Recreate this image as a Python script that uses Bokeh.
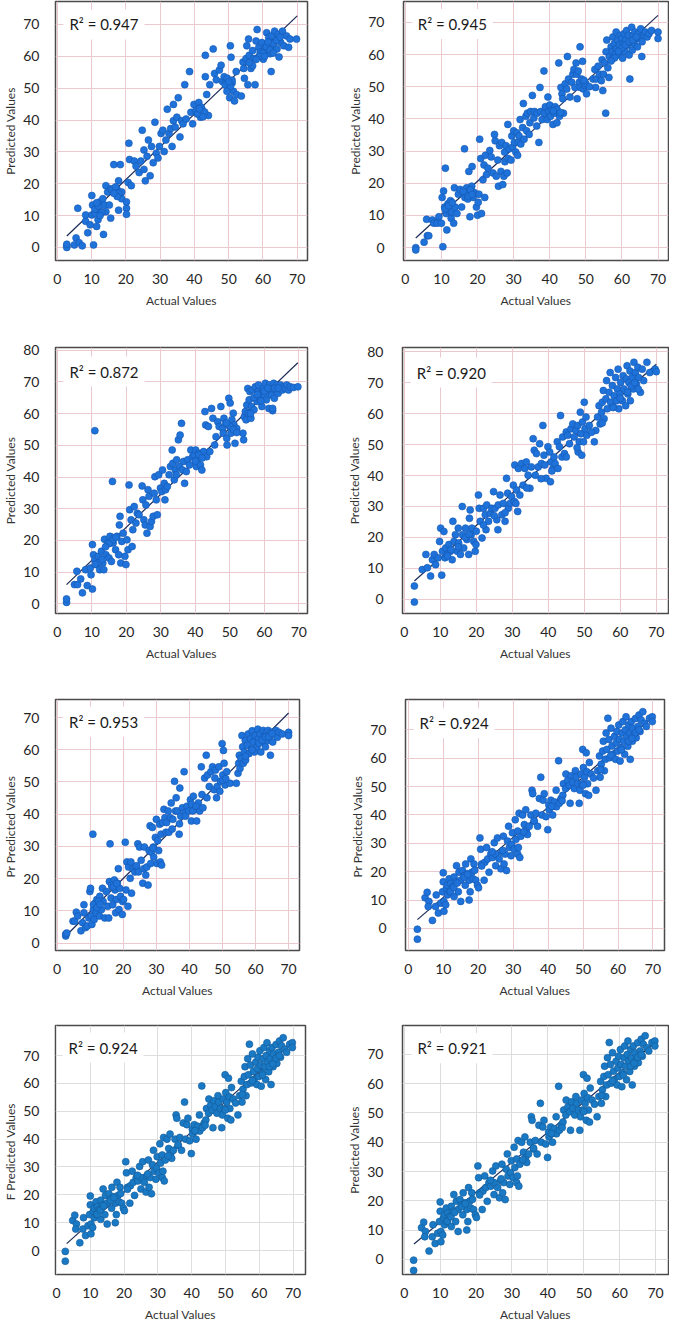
from bokeh.plotting import figure
from bokeh.layouts import column, row
from bokeh.models import Label, FixedTicker
from bokeh.embed import file_html
from bokeh.resources import INLINE

FONT = "Lato"

# ---------------- data (actual, predicted) ----------------
p1_points = [(2.8,0.5),(2.8,0),(2.8,1),(6,12.3),(5.5,3),(5,0.8),(6.4,1.5),(7.3,0.5),(8.9,4.6),(8.3,8.2),(8.3,10.2),(9.6,7.1),(10.6,0.8),(10.1,16.3),(10.3,13.3),(10.1,10.2),(11,10.7),(11.5,12.3),(11.5,6.6),(11.9,8.7),(12.4,14.3),(12.9,11.2),(13.3,15.3),(13.5,4.1),(13.8,13.3),(14.2,19.4),(14.7,17.4),(14.2,11.2),(15.2,13.3),(15.6,18.4),(15.6,9.2),(16.5,26),(17,17.4),(17.4,18.4),(17.9,11.7),(18.4,16.3),(18.4,26),(18.8,15.3),(17.9,20.9),(18.8,17.4),(20.2,12.3),(20.2,10.4),(20.2,14.3),(20.9,32.7),(20.7,20.4),(21.1,27.6),(21.6,19.4),(22.5,27.1),(23,25.5),(23.9,23.5),(24.4,27.1),(24.8,36.8),(25.3,30.6),(25.3,24.5),(25.7,20.9),(26.2,28.6),(26.6,33.7),(27.1,22.5),(27.5,31.7),(28,26.6),(28.5,39.3),(28.9,29.6),(29.4,28.1),(29.8,31.7),(30.3,35.8),(30.8,36.8),(31.2,30.1),(31.7,33.7),(32.1,43.4),(32.6,35.8),(33.1,37.3),(33.5,31.7),(33.9,44.9),(33.9,39.8),(34.4,37.8),(34.9,40.9),(35.3,47),(35.8,34.7),(36.3,39.8),(36.7,38.8),(37.2,51.1),(37.6,40.3),(38.6,55.2),(39,42.4),(39.5,38.8),(39.9,44.9),(40.4,42.9),(40.9,41.9),(41.3,45.5),(41.8,40.9),(42.2,43.4),(43.2,60.3),(43.2,53.6),(43.6,48),(44.1,41.4),(44.5,51.1),(45.5,62.3),(45.9,54.6),(46.4,52.6),(47.3,55.7),(47.8,57.2),(48.2,52.1),(48.7,53.6),(49.1,51.6),(49.6,53.1),(50,50),(50.3,47),(50.5,63.3),(50.7,59.7),(51,51.6),(51.4,49),(51.7,46),(52.2,55.2),(52.3,48),(53.7,47.5),(54.2,58.2),(54.4,56.2),(54.6,53.1),(55.1,59.3),(55.3,63.3),(55.6,51.1),(55.8,65.4),(56,60.3),(56.5,56.2),(57,61.8),(57.4,59.3),(57.7,51.1),(58,64.8),(58.3,68.4),(58.8,62.8),(59.2,61.3),(59.7,64.3),(60.1,59.1),(60.6,62.8),(61.1,67.4),(61.3,61.8),(61.7,65.9),(62.1,60.8),(62.4,55.2),(62.6,66.4),(62.9,63.3),(63.4,67.9),(63.8,64.8),(64.1,62.3),(64.5,66.9),(64.7,59.8),(65.2,64.3),(65.7,67.9),(66.1,63.3),(66.9,66.4),(67.5,62.8),(67.9,65.4),(69.8,65.4),
             (49,51),(50.5,50.5),(51,52.5),(49.5,49),(50,52),(41,42),(42,44),(43,42.5),(42.5,41),(41.5,43.5),(16,18),(17,19),(18,17),(17.5,16),(16.5,17),(11,12),(12,13),(13,11),(11.5,14),(12.5,10),(60,61),(61,63),(62,62),(63,64),(64,65),(59,60),(60.5,60),(61.5,64.5),(63,61),(65,66),(57,57),(56,58),(58,59)]

p2_points = [(2.9,0),(2.9,-0.7),(5.2,1.7),(5.9,8.8),(6.1,3.7),(6.5,3.7),(7.5,8.6),(7.9,7.6),(8.8,7.6),(9.3,9.6),(10,7.6),(10.2,15.6),(10.4,0.3),(10.6,17.6),(10.9,12.6),(11.1,24.7),(11.3,10.6),(11.5,5.5),(11.8,13.6),(12,11.6),(12.5,14.6),(12.7,9.1),(12.9,11.1),(13.4,7.6),(13.6,18.6),(13.8,12.6),(14.3,10.6),(14.7,16.6),(15.2,18.1),(15.6,12.6),(16.1,17.1),(16.4,30.7),(16.5,15.6),(17,18.6),(17.3,15.1),(17.5,17.1),(17.6,23.7),(17.9,9.6),(18.2,16.6),(18.4,19.1),(18.5,25.2),(18.8,15.6),(19.1,17.1),(19.7,12.6),(20,10.1),(20.2,14.1),(20.4,16.6),(20.6,33.7),(20.9,27.7),(21.1,10.6),(21.5,21.1),(21.8,25.7),(22,15.6),(22.2,28.7),(22.5,22.7),(22.9,24.7),(23.4,30.2),(23.8,28.2),(24.3,23.2),(24.7,35.2),(24.9,33.2),(25.2,22.2),(25.6,27.2),(25.8,19.1),(26.1,31.7),(26.5,23.7),(26.7,32.7),(27,19.6),(27.3,22.2),(27.5,29.7),(27.6,26.7),(27.9,31.7),(28.2,23.2),(28.4,38.3),(28.5,27.7),(28.8,30.7),(29.3,27.2),(29.5,34.7),(29.7,31.2),(30,36.3),(30.2,32.7),(30.6,29.7),(30.9,35.7),(31.1,28.7),(31.3,32.7),(31.5,34.7),(31.8,39.8),(32,32.2),(32.5,37.3),(32.7,44.8),(32.9,33.7),(33.4,40.8),(33.6,36.3),(33.8,41.8),(34.3,35.2),(34.5,38.8),(34.7,42.3),(35.2,47.3),(35.6,40.3),(35.8,42.3),(36.4,37.8),(36.5,41.8),(37,32.7),(37.3,49.8),(37.5,42.3),(37.9,39.8),(38.4,54.9),(38.5,41.8),(38.8,43.8),(39.3,39.8),(39.5,46.8),(39.7,42.3),(40,44.3),(40.2,40.8),(40.6,42.8),(40.9,38.3),(41.3,41.8),(41.5,43.8),(42,38.8),(42.5,57.4),(42.7,40.8),(43.1,49.8),(43.4,47.8),(43.6,46.3),(43.8,41.8),(44.3,50.9),(44.7,49.3),(44.9,59.4),(45.2,52.4),(45.6,46.8),(46.1,51.4),(46.4,53.9),(46.7,55.4),(47,49.8),(47.3,57.4),(47.5,53.9),(47.6,46.3),(47.9,54.9),(48.2,51.4),(48.4,62.4),(48.5,49.8),(48.8,52.4),(49.1,57.9),(49.3,49.3),(49.7,50.4),(50.2,47.8),(52,52.4),(52.5,55.4),(52.7,49.8),(52.9,52.4),(53.4,56.4),(53.8,53.9),(54.3,51.9),(54.5,58.4),(54.7,48.8),(54.9,53.9),(55.2,57.4),(55.5,41.8),(55.6,60.9),(55.8,64.5),(56.1,55.9),(56.4,52.9),(56.5,59.4),(57,62.4),(57.3,60.9),(57.5,65.5),(57.6,58.9),(57.9,63.4),(58.2,60.4),(58.4,67),(58.5,61.9),(58.8,64.5),(59.1,59.9),(59.3,62.9),(59.5,66),(59.7,61.4),(60,65),(60.2,58.9),(60.4,63.4),(60.6,66.5),(60.9,60.9),(61.1,64.5),(61.3,67.5),(61.5,62.9),(61.8,66),(62,59.9),(62.2,52.4),(62.5,63.9),(62.7,68.5),(62.9,61.4),(63.1,66),(63.4,63.4),(63.6,67),(63.8,65),(64.3,62.4),(64.5,66.5),(64.9,65),(65.2,68),(65.5,59.4),(65.6,64),(66.1,66),(66.5,67),(67,65.5),(67.5,66.5),(68.2,67.5),(70,67),(70,65),
             (11,12),(12,13),(13,14),(17,17),(17.5,16),(18,18),(16,17.5),(18.5,16.5),(42,43),(41,42.5),(43,42),(50,51),(51,50),(49.5,52),(60,62),(61,63),(62,64),(63,64.5),(64,65.5),(59,61),(58,59),(57,58)]

p3_points = [(2.7,0.5),(2.7,1.6),(5,6.1),(5.7,10.3),(5.9,6.1),(6.8,7.9),(7.3,3.5),(8.2,10.8),(8.7,5.8),(9.6,11.3),(9.8,9.2),(10.2,4.7),(10.2,18.7),(10.5,15.5),(10.9,54.6),(10.9,13.9),(11.4,12.4),(11.9,15),(12.3,10.8),(12.8,16.6),(13.2,12.9),(13.5,10.8),(13.7,20.4),(14.1,15.5),(14.6,19.2),(15,14.5),(15.3,21.3),(15.7,13.4),(16,38.6),(16.2,19.2),(16.4,20.8),(16.9,17.1),(17.3,21.3),(17.8,15.5),(18,24.9),(18.2,27.6),(18.4,12.9),(18.7,19.7),(19.1,22.3),(19.6,15),(19.9,12.4),(20.2,20.2),(20.5,17.1),(20.8,37.5),(21,29.7),(21.4,26.5),(21.7,18.1),(21.9,23.4),(22.3,30.7),(22.8,25.5),(23.2,28.6),(23.7,28.1),(24.6,37.2),(24.8,32.8),(25.1,26.5),(25.5,24.9),(25.7,31.2),(26,22.3),(26.3,36),(26.6,33.9),(26.9,24.4),(27.3,26),(27.8,27.6),(28.1,34.9),(28.3,40.1),(28.7,32.8),(29,28.1),(29.4,40.7),(29.9,36.5),(30.3,35.4),(30.5,42.2),(31,38),(31.2,32.8),(31.4,36),(31.9,37),(32.4,40.7),(32.8,43.3),(33.3,48.5),(33.5,44.3),(33.9,39.1),(34.2,42.2),(34.5,40.7),(34.6,45.4),(35.1,51.7),(35.4,43.3),(35.6,53.2),(36,56.9),(36.3,42.2),(36.6,44.9),(36.9,38),(37.4,41.7),(37.8,45.4),(38.3,43.8),(38.7,48.5),(39.2,46.4),(39.7,47),(40.1,48.5),(40.3,43.3),(40.6,45.4),(41,47.5),(41.5,43.8),(41.9,42.2),(42.4,48),(42.8,60.6),(43,56.4),(43.3,46.4),(43.8,55.9),(44.2,48),(44.7,61.6),(45.1,58.5),(45.6,50.1),(46,52.7),(46.5,57.4),(46.9,55.9),(47.4,62.2),(47.9,55.3),(48.1,53.8),(48.3,58.5),(48.8,56.9),(49.1,52.2),(49.2,50.1),(49.7,64.8),(50,55.9),(50.1,63.3),(50.3,53.8),(50.6,58),(51,60.1),(51.2,56.4),(51.5,50.6),(52,55.3),(53.8,53.8),(54,51.7),(54.2,59),(54.5,60.6),(54.7,58),(54.9,62.7),(55.2,67.9),(55.4,60.1),(55.6,64.3),(55.8,66.9),(56.1,58.5),(56.3,62.2),(56.5,67.4),(57,61.2),(57.2,64.8),(57.4,68.4),(57.9,63.8),(58.2,66.9),(58.3,69),(58.8,64.3),(59.1,66.4),(59.3,62.2),(59.7,67.9),(60,65.8),(60.3,69.5),(60.6,64.3),(61.1,67.4),(61.3,61.6),(61.5,69),(62,65.8),(62.4,67.9),(62.7,69.5),(62.9,64.8),(63.4,67.4),(63.6,69),(64,66.4),(64.3,67.9),(64.7,69),(65.2,67.4),(65.6,68.4),(66.1,67.9),(66.5,69),(67,67.4),(67.5,68.4),(68.4,68.2),(69.7,68.4),(62.4,60.9),(62.4,61.6),
             (16,20),(17,21),(15,19),(14,18),(12,13),(11,12.5),(13,14),(41,47),(42,46),(40,45),(50,56),(51,55),(49,57),(52,54),(57,65),(58,66),(60,67),(61,68),(63,68),(64,68),(59,64),(56,60)]

p4_points = [(2.8,-0.9),(2.8,4.3),(5,9.6),(6,14.5),(6.4,10.2),(7.3,7.5),(7.8,12.8),(8.3,14.5),(8.7,11.2),(9.4,13.4),(9.8,18.7),(10.1,23),(10.4,7.8),(10.6,15.5),(11,21.9),(11.3,13.4),(11.5,16.6),(11.9,14.5),(12.4,17.7),(12.8,15.5),(13.3,12.8),(13.5,25.2),(13.8,18.7),(14.2,20.9),(14.7,15.5),(15,23),(15.1,18.2),(15.6,14.5),(16.1,30),(16.2,20.9),(16.5,16.6),(17,23),(17.4,19.3),(17.9,14.5),(18.1,26.2),(18.3,28.9),(18.6,20.9),(18.8,23),(19.3,18.7),(19.7,15.5),(19.9,17.7),(20.6,33.7),(20.8,29.4),(21.1,25.2),(21.6,19.8),(22,29.4),(22.5,27.3),(22.7,22.5),(22.9,30.5),(23.4,25.2),(23.9,27.8),(24.3,29.4),(24.8,34.8),(25.2,29.4),(25.7,25.7),(26,22.5),(26.1,30.5),(26.6,33.7),(27.1,27.3),(27.5,31),(28,25.2),(28.4,39.1),(28.7,34.3),(28.9,29.4),(29.4,31),(29.8,33.2),(30.3,36.9),(30.6,31.6),(30.7,43.4),(31.2,35.3),(31.5,28.4),(31.7,42.3),(32.1,33.7),(32.6,43.9),(33,36.9),(33.5,42.3),(33.9,44.4),(34.4,40.1),(34.9,35.9),(35.3,42.8),(35.8,51.9),(36.1,48.2),(36.4,40.1),(36.7,47.1),(37.2,42.8),(37.6,50.3),(38.1,43.9),(38.5,56.2),(38.8,46.6),(39,43.4),(39.4,39.1),(39.9,49.3),(40.4,47.6),(40.6,38),(40.8,44.4),(41.3,42.3),(41.6,46),(41.9,43.9),(42.5,50.9),(42.7,42.3),(43.1,49.3),(43.4,59.4),(43.8,46),(44,52.5),(44.5,47.1),(45,54.1),(45.4,53),(45.9,50.3),(46.3,55.1),(46.8,56.7),(47.2,52.5),(47.7,54.6),(48.2,56.2),(48.3,47.6),(48.6,50.9),(48.9,60.5),(49.1,53.5),(49.3,46.6),(49.5,57.3),(49.8,50.9),(50,63.7),(50.2,55.1),(50.5,58.9),(50.7,53),(51.4,56.2),(52.8,50.9),(53.2,54.6),(53.7,58.9),(54.1,62.6),(54.4,56.7),(54.8,60.5),(55,63.7),(55.3,67.5),(55.5,58.4),(56,64.8),(56.2,70.7),(56.4,61.6),(56.9,66.9),(57.2,73.3),(57.3,63.7),(57.8,69.1),(58.1,62.1),(58.3,65.8),(58.7,71.7),(59,64.2),(59.2,68),(59.4,74.4),(59.6,61.6),(59.9,66.4),(60.1,70.1),(60.6,64.2),(60.8,72.3),(61,68),(61.5,62.6),(61.7,71.2),(61.9,75.5),(62.1,66.4),(62.4,70.1),(62.7,73.8),(62.8,64.2),(63.3,71.7),(63.6,68),(63.8,76.6),(64.2,73.3),(64.5,69.6),(64.9,75),(65.1,71.7),(65.6,66.9),(66.1,74.4),(66.5,70.7),(67.4,76.6),(68.2,73.3),(69.7,74.4),(70,73.6),
             (12,14),(13,16),(15,17),(17,20),(18,21),(20,22),(22,24),(25,27),(28,28),(31,31),(34,36),(38,39),(41,41.5),(45,46),(48,49),(52,54),(55,57),(58,62),(60,65),(62,67),(63,69),(64,70),(65,68)]

p5_points = [(2.6,2.2),(2.6,2.8),(2.9,3.1),(4.8,6.8),(5.3,6.8),(5.8,9.6),(6.2,8.4),(7.2,3.8),(7.7,6.3),(8.1,9.4),(8.1,11.9),(8.6,4.8),(9.1,5.3),(9.6,7.8),(9.9,16),(10.1,17),(10.3,8.4),(10.5,5.8),(10.8,33.8),(11,10.4),(11.2,7.3),(11.5,12.4),(11.8,9.4),(12,13.5),(12.5,11.4),(12.8,8.4),(12.9,14.5),(13.4,10.4),(13.7,17),(13.9,12.9),(14.4,7.8),(14.9,16),(15.3,11.4),(15.6,7.8),(15.8,19.1),(16,30.8),(16.3,14),(16.6,17.5),(16.8,11.9),(17.3,19.6),(17.5,16.5),(17.7,9.4),(17.9,13.5),(18.2,18.6),(18.5,23.1),(18.7,10.4),(18.9,17),(19.2,14.5),(19.7,8.9),(19.8,12.9),(20.1,13.5),(20.6,31.3),(20.8,16.5),(21.1,25.2),(21.4,11.4),(21.6,23.6),(22.1,20.1),(22.3,25.2),(22.5,15.5),(23,23.1),(23.5,22.1),(24,23.6),(24.4,30.8),(24.6,22.1),(24.9,29.8),(25.4,25.7),(25.9,18.6),(26.2,23.1),(26.4,29.8),(26.8,21.1),(27.1,23.6),(27.5,18),(27.8,28.7),(28.1,36.4),(28.3,24.7),(28.5,28.2),(28.8,35.9),(29.1,29.8),(29.2,26.7),(29.7,32.8),(30,38.4),(30.2,24.7),(30.4,31.8),(30.7,28.7),(31,36.9),(31.2,25.2),(31.4,33.8),(31.6,24.2),(31.9,37.4),(32.3,41.5),(32.6,38.9),(32.9,34.4),(33.1,37.4),(33.6,41),(33.8,34.4),(34.2,38.9),(34.5,43.5),(34.8,35.4),(35,38.4),(35.5,50.2),(35.8,41),(36,45.1),(36.4,41),(36.9,33.8),(37.1,48.1),(37.4,39.4),(37.9,42),(38.4,53.2),(38.6,40.5),(38.8,39.4),(39.3,42.5),(39.8,41),(40.3,44.5),(40.6,37.9),(40.7,43),(41.2,45.6),(41.7,41.5),(42.2,37.9),(42.7,43.5),(43.1,41),(43.6,54.7),(43.8,46.1),(44.1,42),(44.6,51.2),(45.1,58.3),(45.3,45.1),(45.5,52.2),(46,48.6),(46.5,53.2),(47,54.7),(47.5,47.6),(47.7,51.2),(47.9,53.7),(48.2,45.1),(48.4,48.6),(48.9,54.7),(49.2,47.1),(49.4,50.2),(49.9,61.9),(50.1,52.2),(50.3,59.8),(50.5,55.8),(50.8,49.1),(51.3,53.2),(52.3,49.6),(54.2,49.6),(54.7,52.7),(54.9,55.8),(55.1,58.3),(55.3,54.2),(55.6,57.3),(55.9,64.4),(56.1,60.9),(56.3,55.8),(56.6,59.3),(56.9,62.9),(57,56.8),(57.5,61.4),(57.8,64.9),(58,58.8),(58.5,63.4),(58.8,60.3),(59,65.9),(59.4,62.4),(59.7,59.3),(59.9,64.4),(60.4,60.9),(60.7,66.4),(60.9,63.4),(61.4,64.9),(61.6,59.3),(61.8,62.4),(62.3,66),(62.6,63.9),(63,60.9),(63.3,65.4),(63.6,62.9),(63.8,66),(64.2,63.9),(64.5,58.3),(64.7,65.4),(65.2,62.4),(65.7,64.9),(66.2,66),(66.6,63.9),(67.1,65.4),(68.1,64.9),(70,65.4),(70,64.4),
             (11,12),(12,11),(12.5,13),(13,12),(16.5,18),(17,17.5),(18,18.5),(24,24),(29,29.5),(37,37),(41,41),(42,42.5),(50,50.5),(51,51),(57,58),(59,60),(61,62),(62,63),(63,64),(64,64),(65,65)]

# panels 6, 7 and 8 show the same point cloud
p6_points = [(2.6,-0.3),(2.6,-3.8),(4.8,10.8),(5.4,12.7),(5.9,9.5),(5.7,7.7),(6.9,2.8),(7.8,7.7),(8,11.8),(8.6,5.4),(9.3,8.9),(9.8,12.9),(10,19.6),(10,16.4),(10.2,6),(10.2,9.5),(10.7,8.3),(10.9,14.1),(11.2,15.2),(11.2,11.8),(11.7,17.5),(11.9,12.9),(12.1,15.8),(12.6,14.6),(13.1,11.2),(13.1,18.1),(13.6,16.4),(13.8,22.1),(14.3,12.9),(14.5,19.8),(15,9.5),(15,17),(15.5,20.4),(15.9,18.5),(16.3,15.2),(16.4,22.7),(16.9,19.3),(17.4,17),(17.4,10),(17.7,12.9),(17.9,24.5),(18.2,19.8),(18.5,17.5),(18.8,22.7),(19.3,17),(19.8,15.2),(20.1,14.3),(20.5,31.9),(20.7,27.9),(21,22.7),(21.7,17),(21.9,23.3),(22.4,28.5),(22.7,24.5),(23.1,19.8),(23.6,26.2),(24.1,25),(24.6,30.2),(25,22.1),(25,26.2),(25.5,31.9),(26,24.5),(26.5,21),(26.8,26.8),(27.2,32.5),(27.4,22.7),(27.7,26.2),(28.1,20.4),(28.4,30.8),(28.7,36),(28.9,28.5),(29.4,25.6),(29.6,29.6),(29.8,33.7),(30.3,27.9),(30.6,38.3),(30.8,31.4),(31.3,26.2),(31.3,34.3),(31.5,28.5),(31.7,40.6),(31.9,25),(32.2,32.5),(32.7,40),(33.2,36.6),(33.6,41.8),(33.8,34.8),(34.1,33.1),(34.6,36),(35.1,40),(35.4,48.7),(35.6,47.5),(36,37.7),(36.5,40.6),(37,36),(37.5,45.8),(37.9,53.3),(38.2,40),(38.6,45.2),(38.9,47.5),(39.4,39.4),(39.9,34.8),(40.2,43.5),(40.3,41.8),(40.8,45.2),(41.1,42.9),(41.3,40),(41.8,44.6),(42.3,48.7),(42.4,42.9),(43,59.1),(43.2,44.1),(43.7,45.8),(44.2,46.9),(44.4,51),(45,49.3),(45.1,54.4),(45.6,52.1),(46.1,50.4),(46.3,44.1),(46.6,53.8),(47,51.6),(47.5,49.3),(47.8,55.6),(48,53.3),(48.5,51),(48.9,44.1),(49.1,48.7),(49.4,54.4),(49.7,51),(49.9,63.1),(50.1,56.7),(50.4,53.3),(50.7,47.5),(50.9,61.9),(51.1,55.2),(51.3,51),(51.6,46.9),(51.8,58.5),(52.3,54.4),(53.7,48.7),(54.2,55.6),(54.7,60.8),(54.9,53.3),(55.2,57.9),(55.6,62.5),(55.8,66),(56.1,55.6),(56.4,59.6),(56.6,68.9),(56.8,63.1),(57.1,74.1),(57.4,66.6),(57.6,60.2),(58,70.6),(58.3,64.3),(58.5,61.4),(59,67.7),(59.3,59.6),(59.5,65.4),(59.7,69.4),(59.9,62.5),(60.2,71.7),(60.4,66.6),(60.6,59),(60.9,63.7),(61.2,68.9),(61.4,72.9),(61.6,66),(61.9,61.4),(62.1,70),(62.3,74.6),(62.5,67.7),(62.8,64.2),(63.1,71.7),(63.3,68.9),(63.5,59.6),(63.8,72.9),(64.1,66),(64.2,70.6),(64.7,68.3),(65,74),(65.2,67.2),(65.7,71.2),(66,75.2),(66.3,69.4),(66.6,73.5),(67.1,76.4),(67.6,72.3),(68.1,71.2),(69,74.1),(69.8,74.6),(69.8,72.9),
             (12,13),(13,14.5),(14,16),(16,18),(17,19),(19,20.5),(21,22),(24,27),(27,27.5),(33,34),(36,38),(41,43),(44,45),(50,50.5),(53,53),(55,56),(58,61),(61,63),(63,66),(64,67),(65,69),(66,70)]

# drawn fit lines (start and end)
fit_x = [[2.8, 70.0], [2.9, 70.0], [2.7, 69.7], [2.8, 70.0], [2.6, 70.0], [2.6, 69.8], [3.0, 70.5], [2.7, 70.0]]
fit_y = [[3.6, 72.7], [3.0, 72.2], [6.1, 76.0], [5.9, 76.0], [2.2, 71.4], [3.1, 74.3], [2.5, 75.7], [5.2, 74.2]]
r2_labels = ["0.947", "0.945", "0.872", "0.920", "0.953", "0.924", "0.924", "0.921"]
y_titles = ["Predicted Values", "Predicted Values", "Predicted Values", "Predicted Values",
            "Pr  Predicted Values", "Pr  Predicted Values", "F  Predicted Values", "Predicted Values"]
x_ticks = [0, 10, 20, 30, 40, 50, 60, 70]
y_ticks_70 = [0, 10, 20, 30, 40, 50, 60, 70]
y_ticks_80 = [0, 10, 20, 30, 40, 50, 60, 70, 80]


def panel(pts, idx, xr, yr, yticks, size, borders, r2pos, grid_color, fill, edge, ystand):
    w, h = size
    bl, br, bt, bb = borders
    p = figure(width=w, height=h, x_range=xr, y_range=yr, output_backend="svg",
               toolbar_location=None, min_border_left=bl, min_border_right=br,
               min_border_top=bt, min_border_bottom=bb)
    p.background_fill_color = "white"
    p.border_fill_color = "white"
    p.outline_line_color = "#4a4a4a"
    p.outline_line_width = 1.5
    p.xaxis.ticker = FixedTicker(ticks=x_ticks)
    p.yaxis.ticker = FixedTicker(ticks=yticks)
    p.xgrid.ticker = FixedTicker(ticks=x_ticks)
    p.ygrid.ticker = FixedTicker(ticks=yticks)
    p.grid.grid_line_color = grid_color
    p.grid.grid_line_width = 1
    p.axis.axis_line_color = None
    p.axis.major_tick_line_color = None
    p.axis.minor_tick_line_color = None
    p.axis.major_label_text_font = FONT
    p.axis.major_label_text_font_size = "14px"
    p.axis.major_label_text_color = "#262626"
    p.xaxis.major_label_standoff = 7
    p.yaxis.major_label_standoff = ystand
    p.axis.axis_label_text_font = FONT
    p.axis.axis_label_text_font_size = "12px"
    p.axis.axis_label_text_font_style = "normal"
    p.axis.axis_label_text_color = "#333333"
    p.xaxis.axis_label_standoff = 6
    p.yaxis.axis_label_standoff = 2
    p.xaxis.axis_label = "Actual Values"
    p.yaxis.axis_label = y_titles[idx]

    xs = [a for a, b in pts]
    ys = [b for a, b in pts]
    p.line(fit_x[idx], fit_y[idx], line_color="#1c2b57", line_width=1.2)
    p.scatter(xs, ys, size=7, fill_color=fill, line_color=edge, line_width=0.6)
    lab = Label(x=r2pos[0], y=r2pos[1], text="R\u00b2 = " + r2_labels[idx],
                text_baseline="middle", text_font=FONT, text_font_size="15px",
                text_color="#1a1a1a", background_fill_color="white",
                background_fill_alpha=1.0, padding=6)
    p.add_layout(lab)
    return p


PINK = "#ecc9cf"
BLUE = "#1f72d9"
EDGE = "#1457b0"
BLUE2 = "#1a79c4"
EDGE2 = "#135a98"

p1 = panel(p1_points, 0, (-0.5, 73.0), (-4.1, 77.2), y_ticks_70, (332, 325), (44, 25, 1, 63), (1.8, 70.0), PINK, BLUE, EDGE, 10)
p2 = panel(p2_points, 1, (-0.5, 72.9), (-4.0, 76.5), y_ticks_70, (337, 325), (71, 1, 1, 65), (1.8, 69.5), PINK, BLUE, EDGE, 13)
p3 = panel(p3_points, 2, (-0.5, 72.5), (-3.0, 80.8), y_ticks_80, (332, 340), (44, 25, 21, 52), (1.8, 73.2), PINK, BLUE, EDGE, 10)
p4 = panel(p4_points, 3, (-0.5, 73.4), (-4.6, 81.4), y_ticks_80, (337, 340), (70, 1, 22, 50), (1.8, 73.3), PINK, BLUE, EDGE, 13)
p5 = panel(p5_points, 4, (-0.5, 73.3), (-2.3, 75.6), y_ticks_70, (332, 335), (44, 33, 34, 46), (1.8, 68.7), PINK, BLUE, EDGE, 10)
p6 = panel(p6_points, 5, (-0.8, 73.3), (-7.8, 80.7), y_ticks_70, (337, 335), (73, 5, 31, 48), (1.5, 72.3), PINK, BLUE, EDGE, 13)
p7 = panel(p6_points, 6, (-0.3, 73.7), (-8.6, 80.8), y_ticks_70, (332, 324), (44, 27, 25, 40), (1.8, 72.9), "#dedede", BLUE2, EDGE2, 10)
p8 = panel(p6_points, 7, (-0.5, 73.6), (-5.2, 79.9), y_ticks_70, (337, 324), (70, 1, 19, 40), (2.0, 72.1), "#dcdcdc", BLUE2, EDGE2, 13)

layout = column(row(p1, p2), row(p3, p4), row(p5, p6), row(p7, p8))
open("out.html", "w").write(file_html(layout, INLINE))
